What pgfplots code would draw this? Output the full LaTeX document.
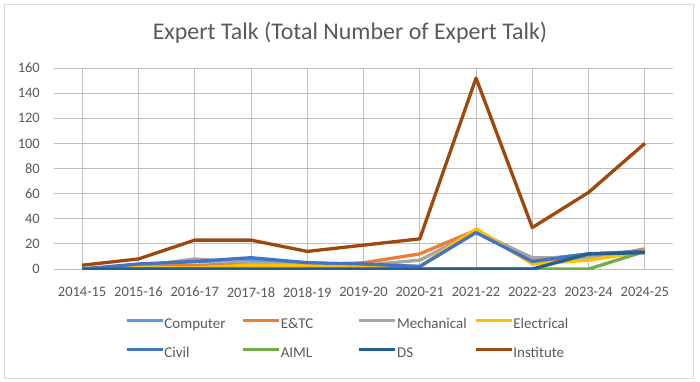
\documentclass[border=0pt]{standalone}
\usepackage{pgfplots}
\pgfplotsset{compat=1.18}
\usepackage{fontspec}
\setmainfont{Carlito}
\definecolor{txt}{HTML}{595959}
\definecolor{grid}{HTML}{D9D9D9}
\definecolor{cComp}{HTML}{5B9BD5}
\definecolor{cEtc}{HTML}{ED7D31}
\definecolor{cMech}{HTML}{A5A5A5}
\definecolor{cElec}{HTML}{FFC000}
\definecolor{cCivil}{HTML}{4472C4}
\definecolor{cAiml}{HTML}{70AD47}
\definecolor{cDs}{HTML}{255E91}
\definecolor{cInst}{HTML}{9E480E}
\begin{document}
\begin{tikzpicture}
\useasboundingbox (-54bp,-113bp) rectangle (646bp,269bp);
\draw[grid, line width=0.8bp] (-50bp,-109bp) rectangle (639bp,265bp);
\begin{axis}[
  scale only axis,
  width=619bp, height=201bp,
  xmin=-0.5, xmax=10.5,
  ymin=0, ymax=160,
  ytick={0,20,...,160},
  xtick={0,...,10},
  xticklabels={2014-15,2015-16,2016-17,2017-18,2018-19,2019-20,2020-21,2021-22,2022-23,2023-24,2024-25},
  axis line style={draw=none},
  ymajorgrids,
  grid style={grid, line width=0.9bp},
  major tick length=0pt,
  tick style={draw=none},
  /pgf/number format/assume math mode=true,
  ticklabel style={font=\fontsize{14.5}{16}\selectfont, text=txt},
  yticklabel style={inner sep=0pt},
  xticklabel style={inner sep=0pt},
  yticklabel shift=14bp,
  xticklabel shift=18bp,
  legend columns=4,
  legend style={
    draw=none, fill=none, inner sep=0pt,
    at={(71bp,-48bp)}, anchor=north west,
    font=\fontsize{15}{17}\selectfont, text=txt,
    nodes={inner sep=0pt, text width=77bp, align=left, text height=11bp, text depth=3bp},
    /tikz/every odd column/.append style={column sep=0bp},
    row sep=15bp,
  },
  legend image code/.code={\draw[#1] (0bp,3.5bp) -- (36bp,3.5bp);},
  every axis plot/.append style={line width=3.3bp, line join=round},
]
\addplot[cComp] coordinates {(0,0) (1,3) (2,6) (3,7) (4,5) (5,3) (6,2) (7,30) (8,7) (9,12) (10,14)};
\addlegendentry{Computer}
\addplot[cEtc] coordinates {(0,0) (1,2) (2,3) (3,4) (4,3) (5,5) (6,12) (7,31) (8,7) (9,8) (10,16)};
\addlegendentry{E\&TC}
\addplot[cMech] coordinates {(0,0) (1,2) (2,8) (3,5) (4,3) (5,3) (6,7) (7,30) (8,9) (9,9) (10,15)};
\addlegendentry{Mechanical}
\addplot[cElec] coordinates {(0,0) (1,1) (2,1) (3,3) (4,3) (5,3) (6,2) (7,32) (8,4) (9,7) (10,14)};
\addlegendentry{Electrical}
\addplot[cCivil] coordinates {(0,0) (1,4) (2,6) (3,9) (4,5) (5,4) (6,2) (7,29) (8,6) (9,12) (10,14)};
\addlegendentry{Civil}
\addplot[cAiml] coordinates {(0,0) (1,0) (2,0) (3,0) (4,0) (5,0) (6,0) (7,0) (8,0) (9,0) (10,14)};
\addlegendentry{AIML}
\addplot[cDs] coordinates {(0,0) (1,0) (2,0) (3,0) (4,0) (5,0) (6,0) (7,0) (8,0) (9,12) (10,13)};
\addlegendentry{DS}
\addplot[cInst] coordinates {(0,3) (1,8) (2,23) (3,23) (4,14) (5,19) (6,24) (7,152) (8,33) (9,61) (10,100)};
\addlegendentry{Institute}
\end{axis}
\node[anchor=base, font=\fontsize{24}{28}\selectfont, text=txt] at (296bp,229bp) {Expert Talk (Total Number of Expert Talk)};
\end{tikzpicture}
\end{document}
